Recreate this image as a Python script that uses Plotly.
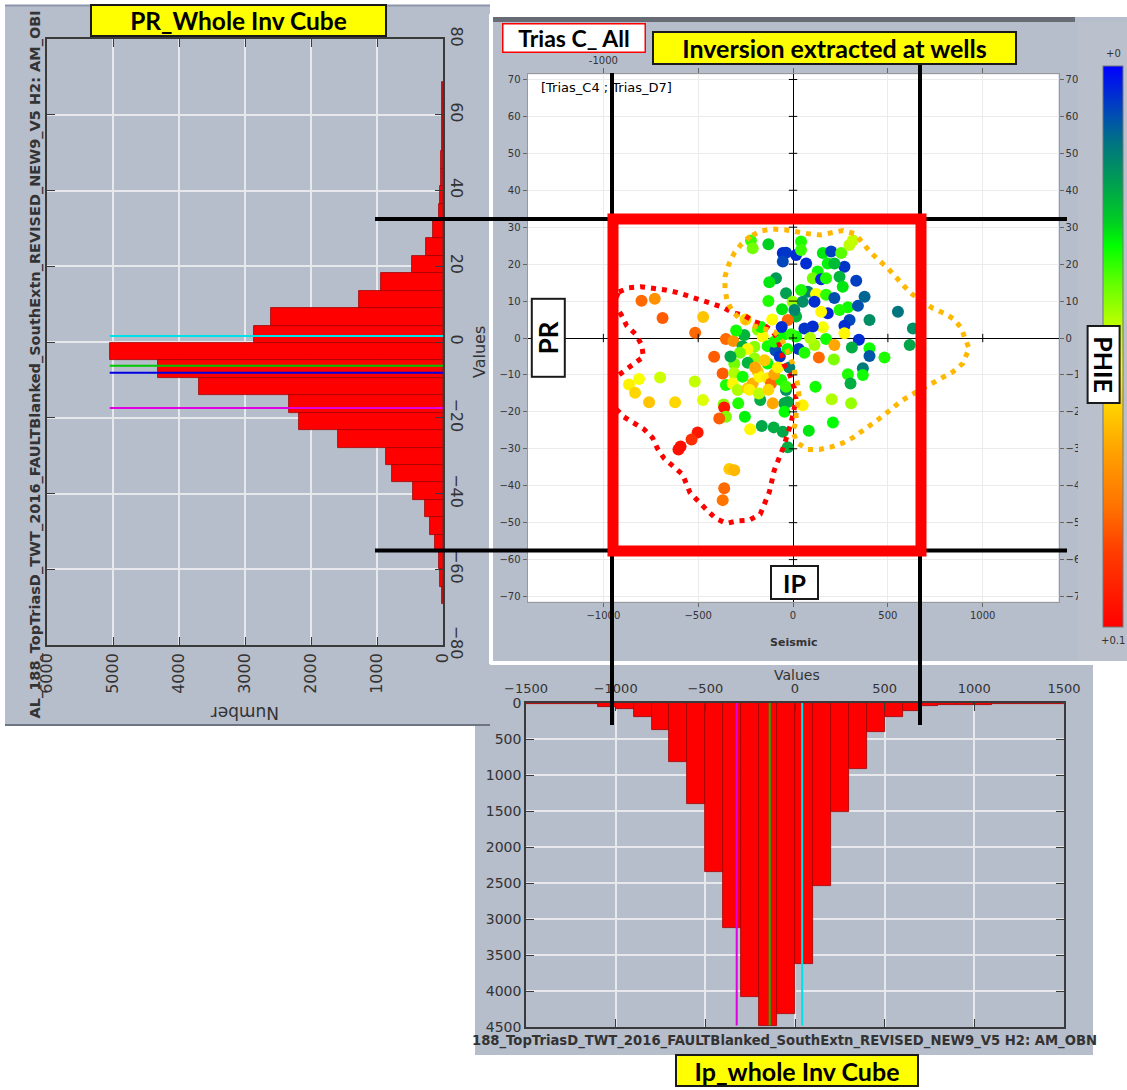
import plotly.graph_objects as go

W, H = 1127, 1090


def fx(px):
    return px / W


def fy(py):
    return 1 - py / H


# ---------------- PR histogram (whole inversion cube) ----------------
pr_bin_centers = [66.44, 61.84, 57.24, 52.64, 48.04, 43.44, 38.84, 34.24, 29.64, 25.04,
                  20.44, 15.84, 11.24, 6.64, 2.04, -2.56, -7.16, -11.76, -16.36, -20.96,
                  -25.56, -30.16, -34.76, -39.36, -43.96, -48.56, -53.16, -57.76, -62.36, -66.96]
pr_bin_width = 4.6
pr_counts = [15, 15, 20, 20, 25, 30, 40, 60, 150, 260,
             470, 940, 1270, 2600, 2860, 5050, 4320, 3700, 2330, 2180,
             1590, 870, 780, 460, 280, 200, 120, 60, 45, 20]
pr_well_values = [1.6, -6.3, -8.1, -17.4]
pr_well_colors = ['#00E0E8', '#00C800', '#0000E0', '#E000E0']

# ---------------- IP histogram (whole inversion cube) ----------------
ip_bin_centers = [-1450, -1350, -1250, -1150, -1050, -950, -850, -750, -650, -550,
                  -450, -350, -250, -150, -50, 50, 150, 250, 350, 450,
                  550, 650, 750, 850, 950, 1050, 1150, 1250, 1350, 1450]
ip_bin_width = 100
ip_counts = [20, 20, 10, 10, 55, 85, 195, 370, 820, 1405,
             2350, 3120, 4080, 4480, 4320, 3620, 2540, 1520, 920, 400,
             195, 115, 42, 25, 30, 25, 15, 10, 10, 10]
ip_well_values = [-325, -141, 40]
ip_well_colors = ['#E000E0', '#00C000', '#00E0E8']

# ---------------- Scatter: inversion extracted at wells ----------------
ip_seismic = [-799, -729, -688, -474, -516, -354, -315, -416, -222, -213,
              -130, -54, -37, -54, -90, -125, -37, -130, -58, -2,
              16, -28, -186, -160, -257, -266, -204, -134, -54, 16,
              -93, -204, -239, -310, -134, -186, -371, -311,
              16, 42, 42, 69, 157, 201, 254, 297, 315, 271,
              183, 218, 130, 104, 148, 174, 245, 333, 262, 78,
              42, 121, 174, 51, 113, 218, 289, 342, 377, 245,
              183, 148, 7, 298, 403, 553, 632, 157, 104, 60,
              271, 271, 174, 113, 218, 347, 310, 403, 403, 482,
              136, 215, 615, 368, 289, 368,
              303, 118, 204, 306, 210, 83, 51, -46, -37, -28, -54,
              -812, -701, -865, -833, -759, -622, -518, -475, -366, -363,
              -354, -389, -289, -254, -226, -173, -107, -165, -102,
              -503, -535, -604, -593, -336, -310, -363, -371,
              -354, -318, -292, -266, -239, -213, -178, -134, -116, -63, -37, -28, -99,
              -240, -200, -150, -100, -70, -30, -20, -60, -110, -170,
              -280, -230, -180, -130, -80, -250, -300, -330, -45, -10,
              30, 60, 90]
pr_values = [10.1, 10.6, 5.4, 5.7, 1.4, -0.3, -0.8, -5.1, 26.4, 24.3,
             25.4, 23.0, 23.1, 20.7, 16.2, 15.1, 12.1, 10.0, 7.8, 9.8,
             5.8, 4.9, 2.2, 0.4, 0.8, -2.2, -2.4, -2.2, 0.8, 0.4,
             -3.4, -5.5, -6.7, -7.0, -6.9, -9.1, -9.6, -9.5,
             22.5, 26.1, 23.8, 20.2, 23.0, 23.4, 23.0, 25.2, 26.4, 19.3,
             20.2, 20.2, 18.0, 16.2, 15.9, 16.2, 16.6, 15.5, 13.9, 12.5,
             13.0, 11.9, 11.7, 9.8, 9.8, 10.8, 8.3, 8.7, 11.2, 7.6,
             6.7, 7.1, 7.6, 4.9, 4.9, 7.1, 2.6, 2.9, 3.1, 2.6,
             3.3, 1.3, -0.3, -1.9, -1.9, -0.5, -2.6, -2.8, -4.9, -5.3,
             -5.3, -5.8, -1.9, -8.2, -9.8, -10.0,
             -12.3, -13.2, -16.6, -17.7, -22.9, -25.1, -18.2, -17.7, -14.1, -29.6, -25.4,
             -11.1, -10.7, -12.6, -14.8, -17.4, -17.4, -11.8, -16.8, -18.0, -18.8,
             -21.3, -21.8, -17.7, -21.3, -24.7, -16.8, -17.7, -23.8, -24.2,
             -25.6, -27.5, -30.2, -29.4, -35.5, -35.8, -40.7, -43.9,
             -12.7, -12.3, -14.1, -10.5, -13.6, -12.3, -10.5, -10.9, -12.3, -11.4, -13.2, -17.3, -9.8,
             -3.0, -8.0, -6.0, -1.0, -5.0, -3.0, -8.0, 3.0, 5.0, 3.0,
             -4.0, -14.0, -15.0, -14.0, -8.0, 5.0, 2.0, -5.0, -20.0, 1.0,
             -3.0, -4.0, 0.0]
phie = [0.080, 0.072, 0.082, 0.063, 0.080, 0.080, 0.072, 0.082, 0.036, 0.040,
        0.028, 0.005, 0.006, 0.008, 0.020, 0.030, 0.021, 0.034, 0.030, 0.043,
        0.024, 0.080, 0.042, 0.055, 0.024, 0.023, 0.042, 0.033, 0.032, 0.033,
        0.009, 0.043, 0.024, 0.040, 0.032, 0.062, 0.082, 0.045,
        0.005, 0.034, 0.036, 0.005, 0.030, 0.007, 0.038, 0.046, 0.047, 0.006,
        0.031, 0.025, 0.033, 0.040, 0.005, 0.034, 0.024, 0.007, 0.030, 0.017,
        0.034, 0.054, 0.035, 0.018, 0.005, 0.009, 0.033, 0.009, 0.012, 0.034,
        0.004, 0.055, 0.017, 0.008, 0.018, 0.014, 0.018, 0.053, 0.005, 0.006,
        0.005, 0.055, 0.033, 0.044, 0.068, 0.005, 0.023, 0.033, 0.010, 0.034,
        0.080, 0.041, 0.022, 0.015, 0.034, 0.033,
        0.023, 0.033, 0.045, 0.043, 0.032, 0.030, 0.056, 0.022, 0.018, 0.023, 0.022,
        0.053, 0.048, 0.056, 0.060, 0.063, 0.060, 0.047, 0.050, 0.042, 0.095,
        0.041, 0.082, 0.034, 0.031, 0.055, 0.023, 0.068, 0.022, 0.023,
        0.095, 0.090, 0.097, 0.097, 0.062, 0.065, 0.080, 0.078,
        0.034, 0.055, 0.045, 0.033, 0.062, 0.066, 0.055, 0.057, 0.080, 0.034, 0.036, 0.022, 0.068,
        0.055, 0.068, 0.062, 0.034, 0.006, 0.033, 0.016, 0.005, 0.054, 0.033,
        0.040, 0.056, 0.046, 0.060, 0.056, 0.060, 0.033, 0.022, 0.032, 0.035,
        0.006, 0.034, 0.045]

# hand-drawn dotted outlines (in IP / PR units)
red_outline_ip = [-918, -865, -803, -736, -671, -609, -548, -490, -433, -371, -319, -254, -204,
                  -152, -107, -81, -63, -46, -20, 7, 16, -11, -49, -72, -99, -125, -148,
                  -173, -231, -292, -350, -407, -454, -498, -543, -583, -630, -680, -715,
                  -741, -786, -838, -894, -951, -961, -940, -888, -833, -789, -798, -829,
                  -877, -905, -946, -918]
red_outline_pr = [12.5, 13.6, 13.9, 13.6, 13.0, 12.3, 11.4, 10.5, 9.4, 8.3, 6.9, 6.0, 4.4,
                  3.5, 1.7, -0.1, -4.6, -7.3, -9.6, -13.6, -16.8, -23.1, -29.3, -32.3, -35.8,
                  -41.7, -44.8, -47.7, -49.3, -49.5, -50.2, -48.9, -46.6, -44.4, -41.9, -36.9,
                  -34.7, -32.6, -29.9, -27.0, -24.7, -23.0, -21.3, -18.2, -14.1, -10.8, -8.9,
                  -7.1, -5.1, -1.9, 1.0, 3.3, 6.2, 9.5, 12.5]
orange_outline_ip = [-226, -271, -310, -337, -358, -359, -349, -322, -278, -222, -99, -54, -28,
                     -2, 25, 33, 16, 16, -2, 25, 78, 139, 201, 263, 315, 368, 421, 474, 523,
                     571, 623, 738, 791, 844, 895, 928, 906, 888, 849, 796, 738, 632, 588,
                     544, 500, 456, 408, 368, 328, 263, 204, 144, 83, 16, -42, -107, -169, -226]
orange_outline_pr = [27.5, 25.5, 23.0, 20.2, 16.8, 13.5, 10.3, 7.4, 4.9, 3.5, 1.7, -1.0, -3.7,
                     -6.9, -12.7, -16.3, -19.5, -22.7, -25.4, -28.5, -30.2, -30.2, -29.5, -28.4,
                     -27.0, -25.2, -23.1, -21.1, -18.9, -17.0, -15.4, -12.3, -10.7, -9.1, -6.9,
                     -2.8, -0.1, 2.6, 5.1, 6.7, 8.0, 11.7, 13.9, 16.6, 18.9, 20.9, 23.2, 25.7,
                     28.2, 29.1, 28.5, 27.9, 28.2, 28.8, 29.3, 29.5, 29.0, 27.5]

# tick labels
pr_ticks = [-80, -60, -40, -20, 0, 20, 40, 60, 80]
number_ticks = [0, 1000, 2000, 3000, 4000, 5000, 6000]
scatter_x_ticks = [-1000, -500, 0, 500, 1000]
scatter_top_labels = ['-1000', '', '', '', '']   # the others sit under the title box
scatter_y_ticks = [-70, -60, -50, -40, -30, -20, -10, 0, 10, 20, 30, 40, 50, 60, 70]
ip_ticks = [-1500, -1000, -500, 0, 500, 1000, 1500]
count_ticks = [0, 500, 1000, 1500, 2000, 2500, 3000, 3500, 4000, 4500]

PANEL = '#B6BDCB'
GRID = '#E6E8EC'
FRAME = '#3A3A3A'
TICKC = '#333333'

fig = go.Figure()

# ---- left histogram (horizontal) ----
fig.add_trace(go.Bar(orientation='h', x=pr_counts, y=pr_bin_centers, width=pr_bin_width,
                     marker=dict(color='#FF0000', line=dict(color='#A00000', width=0.8)),
                     xaxis='x', yaxis='y', hoverinfo='skip'))
for v, c in zip(pr_well_values, pr_well_colors):
    fig.add_trace(go.Scatter(x=[0, max(pr_counts)], y=[v, v], mode='lines',
                             line=dict(color=c, width=2), xaxis='x', yaxis='y', hoverinfo='skip'))

# ---- bottom histogram ----
fig.add_trace(go.Bar(x=ip_bin_centers, y=ip_counts, width=ip_bin_width,
                     marker=dict(color='#FF0000', line=dict(color='#A00000', width=0.8)),
                     xaxis='x3', yaxis='y3', hoverinfo='skip'))
for v, c in zip(ip_well_values, ip_well_colors):
    fig.add_trace(go.Scatter(x=[v, v], y=[0, max(ip_counts)], mode='lines',
                             line=dict(color=c, width=2), xaxis='x3', yaxis='y3', hoverinfo='skip'))

# ---- scatter ----
colorscale = [[0.0, '#FF0000'], [0.14, '#FF4000'], [0.21, '#FF7000'], [0.31, '#FFA000'],
              [0.39, '#FFD000'], [0.46, '#FFFF00'], [0.54, '#BBFF00'], [0.61, '#66FF00'],
              [0.68, '#00FF00'], [0.72, '#00D020'], [0.79, '#00A050'], [0.86, '#007580'],
              [0.91, '#0050B0'], [1.0, '#0000FF']]
fig.add_trace(go.Scatter(
    x=ip_seismic, y=pr_values, mode='markers', xaxis='x2', yaxis='y2', hoverinfo='skip',
    marker=dict(size=12, color=[-p for p in phie], cmin=-0.1, cmax=0.0,
                colorscale=colorscale, line=dict(width=0),
                colorbar=dict(x=fx(1103), xanchor='left', xpad=0, ypad=0,
                              y=fy(346.5), yanchor='middle', len=561, lenmode='pixels',
                              thickness=20, thicknessmode='pixels', outlinewidth=1,
                              outlinecolor='#777777', showticklabels=False, ticks=''))))

fig.add_trace(go.Scatter(x=red_outline_ip, y=red_outline_pr, mode='lines', xaxis='x2', yaxis='y2',
                         line=dict(color='#FF0000', width=5, dash='5px,6px'), hoverinfo='skip'))
fig.add_trace(go.Scatter(x=orange_outline_ip, y=orange_outline_pr, mode='lines', xaxis='x2', yaxis='y2',
                         line=dict(color='#FFB800', width=5, dash='5px,6px'), hoverinfo='skip'))

# small ticks along the zero lines
fig.add_trace(go.Scatter(x=[0] * len(scatter_y_ticks), y=scatter_y_ticks, mode='markers',
                         xaxis='x2', yaxis='y2', hoverinfo='skip',
                         marker=dict(symbol='line-ew', size=6, line=dict(color='black', width=1))))
fig.add_trace(go.Scatter(x=scatter_x_ticks, y=[0] * len(scatter_x_ticks), mode='markers',
                         xaxis='x2', yaxis='y2', hoverinfo='skip',
                         marker=dict(symbol='line-ns', size=6, line=dict(color='black', width=1))))

# invisible traces so that the mirrored top / right scatter axes are drawn
fig.add_trace(go.Scatter(x=scatter_x_ticks, y=[0] * len(scatter_x_ticks), mode='markers',
                         xaxis='x4', yaxis='y2', marker=dict(opacity=0), hoverinfo='skip'))
fig.add_trace(go.Scatter(x=[0] * len(scatter_y_ticks), y=scatter_y_ticks, mode='markers',
                         xaxis='x2', yaxis='y4', marker=dict(opacity=0), hoverinfo='skip'))

tick_font_small = dict(family='DejaVu Sans', size=10, color=TICKC)

fig.update_layout(
    width=W, height=H, autosize=False, showlegend=False,
    margin=dict(l=0, r=0, t=0, b=0, pad=0, autoexpand=False),
    paper_bgcolor='white', plot_bgcolor='rgba(0,0,0,0)',
    bargap=0,
    # left histogram
    xaxis=dict(domain=[fx(47), fx(443)], anchor='y', range=[6000, 0], tickvals=number_ticks,
               tickangle=-90, ticks='inside', ticklen=8, tickcolor=FRAME, mirror='ticks',
               showline=True, linecolor=FRAME, linewidth=1.5, showgrid=True, gridcolor=GRID,
               gridwidth=1.5, zeroline=False, tickfont=dict(family='DejaVu Sans', size=16, color=TICKC)),
    yaxis=dict(domain=[fy(645), fy(39)], anchor='x', side='right', range=[-80, 80], tickvals=pr_ticks,
               tickangle=90, ticks='inside', ticklen=8, tickcolor=FRAME, mirror='ticks',
               showline=True, linecolor=FRAME, linewidth=1.5, showgrid=True, gridcolor=GRID,
               gridwidth=1.5, zeroline=False, tickfont=dict(family='DejaVu Sans', size=16, color=TICKC)),
    # scatter
    xaxis2=dict(domain=[fx(527.5), fx(1058.6)], anchor='y2', range=[-1400, 1400],
                tickvals=scatter_x_ticks, ticks='outside', ticklen=4, tickcolor='#666666',
                showline=True, linecolor='#999999', showgrid=True, gridcolor='#EBEBEB',
                zeroline=True, zerolinecolor='black', zerolinewidth=1, tickfont=tick_font_small),
    yaxis2=dict(domain=[fy(601.7), fy(74.3)], anchor='x2', range=[-71.4, 71.4],
                tickvals=scatter_y_ticks, ticks='outside', ticklen=4, tickcolor='#666666',
                showline=True, linecolor='#999999', showgrid=True, gridcolor='#EBEBEB',
                zeroline=True, zerolinecolor='black', zerolinewidth=1, tickfont=tick_font_small),
    xaxis4=dict(overlaying='x2', anchor='y2', side='top', range=[-1400, 1400],
                tickvals=scatter_x_ticks, ticktext=scatter_top_labels, ticks='outside', ticklen=5,
                tickcolor='#666666', showline=True, linecolor='#999999', showgrid=False,
                zeroline=False, tickfont=tick_font_small),
    yaxis4=dict(overlaying='y2', anchor='x2', side='right', range=[-71.4, 71.4],
                tickvals=scatter_y_ticks, ticks='outside', ticklen=4, tickcolor='#666666',
                showline=True, linecolor='#999999', showgrid=False, zeroline=False,
                tickfont=tick_font_small),
    # bottom histogram
    xaxis3=dict(domain=[fx(526), fx(1064)], anchor='y3', side='top', range=[-1500, 1500],
                tickvals=ip_ticks, ticks='inside', ticklen=8, tickcolor=FRAME, mirror='ticks',
                showline=True, linecolor=FRAME, linewidth=1.5, showgrid=True, gridcolor=GRID,
                gridwidth=1.5, zeroline=False, ticklabelstandoff=3,
                tickfont=dict(family='DejaVu Sans', size=13, color=TICKC)),
    yaxis3=dict(domain=[fy(1027), fy(703)], anchor='x3', range=[4500, 0], tickvals=count_ticks,
                ticks='inside', ticklen=8, tickcolor=FRAME, mirror='ticks',
                showline=True, linecolor=FRAME, linewidth=1.5, showgrid=True, gridcolor=GRID,
                gridwidth=1.5, zeroline=False, tickfont=dict(family='DejaVu Sans', size=14, color=TICKC)),
)


def prect(x0, y0, x1, y1, fill, layer='below', line_color=None, line_width=0):
    return dict(type='rect', xref='paper', yref='paper', x0=fx(x0), x1=fx(x1), y0=fy(y1), y1=fy(y0),
                fillcolor=fill, layer=layer,
                line=dict(color=line_color or fill, width=line_width))


def pline(x0, y0, x1, y1, color, width, layer='above'):
    return dict(type='line', xref='paper', yref='paper', x0=fx(x0), x1=fx(x1), y0=fy(y0), y1=fy(y1),
                layer=layer, line=dict(color=color, width=width))


shapes = [
    # bottom panel
    prect(475, 665, 1093, 1055, PANEL),
    # left panel
    prect(5, 5, 490, 725, PANEL),
    pline(5, 5.5, 490, 5.5, '#8C95AA', 2, 'below'),
    pline(5, 725, 490, 725, '#6E7482', 2, 'below'),
    # scatter panel
    prect(489, 14, 1127, 664, 'white'),
    prect(493, 17, 1127, 661, PANEL),
    prect(493, 17, 1075, 22, '#676B73'),
    prect(527.5, 74.3, 1058.6, 601.7, 'white'),
    # colour-bar column (clips the right tick labels)
    prect(1078, 22, 1127, 661, '#BAC1CD', layer='above'),
    # guide lines
    pline(375, 219, 1067, 219, 'black', 4),
    pline(375, 550.5, 1067, 550.5, 'black', 4),
    pline(612, 73, 612, 725, 'black', 4),
    pline(920, 63, 920, 725, 'black', 4),
    # red rectangle
    dict(type='rect', xref='paper', yref='paper', x0=fx(613), x1=fx(921), y0=fy(551), y1=fy(219),
         layer='above', fillcolor='rgba(0,0,0,0)', line=dict(color='#FF0000', width=11)),
]
fig.update_layout(shapes=shapes)


def ann(text, cx, cy, size, family='DejaVu Sans', color=TICKC, angle=0, bg=None, border=None,
        bw=0, w=None, h=None, bold=False):
    d = dict(text=('<b>%s</b>' % text) if bold else text, xref='paper', yref='paper',
             x=fx(cx), y=fy(cy), xanchor='center', yanchor='middle', showarrow=False,
             textangle=angle, font=dict(family=family, size=size, color=color), borderpad=0)
    if bg:
        d['bgcolor'] = bg
    if border:
        d['bordercolor'] = border
        d['borderwidth'] = bw
    if w:
        d['width'] = w
    if h:
        d['height'] = h
    return d


annotations = [
    # left histogram texts
    ann('AL_188_TopTriasD_TWT_2016_FAULTBlanked_SouthExtn_REVISED_NEW9_V5 H2: AM_OBI',
        34.5, 365, 14.5, angle=-90, bold=True),
    ann('Number', 245, 713, 17, angle=180),
    ann('Values', 479, 352, 16, angle=-90),
    # bottom histogram texts
    ann('Values', 797, 675, 14),
    ann('188_TopTriasD_TWT_2016_FAULTBlanked_SouthExtn_REVISED_NEW9_V5 H2: AM_OBN',
        784, 1041, 13.2, bold=True),
    # scatter texts
    ann('[Trias_C4 ; Trias_D7]', 606, 87, 13, color='black'),
    ann('Seismic', 793, 642, 11, bold=True),
    ann('+0', 1113, 53.5, 10),
    ann('+0.1', 1113, 640, 10),
    # labelled boxes
    ann('PR_Whole Inv Cube', 238.5, 20, 24.5, family='Lato', color='black', bg='#FFFF00',
        border='#1A1A1A', bw=2, w=293, h=29, bold=True),
    ann('Trias C_ All', 574, 38.3, 23, family='Lato', color='black', bg='white',
        border='#FF0000', bw=1.5, w=141, h=27, bold=True),
    ann('Inversion extracted at wells', 834, 47.5, 25, family='Lato', color='black', bg='#FFFF00',
        border='#1A1A1A', bw=2, w=361, h=30, bold=True),
    ann('PR', 548.3, 337.5, 26, family='Lato', color='black', bg='white',
        border='#1A1A1A', bw=2, angle=-90, w=76, h=31, bold=True),
    ann('PHIE', 1103.3, 364.3, 25, family='Lato', color='black', bg='white',
        border='#1A1A1A', bw=2, angle=90, w=75, h=30, bold=True),
    ann('IP', 794, 582, 25, family='Lato', color='black', bg='white',
        border='#1A1A1A', bw=2, w=45, h=31, bold=True),
    ann('Ip_whole Inv Cube', 797, 1070.5, 25, family='Lato', color='black', bg='#FFFF00',
        border='#1A1A1A', bw=2, w=240, h=29, bold=True),
]
fig.update_layout(annotations=annotations)

fig.write_html('out.html', config={'displayModeBar': False},
               post_script="document.body.style.margin='0px';document.body.style.overflow='hidden';")
